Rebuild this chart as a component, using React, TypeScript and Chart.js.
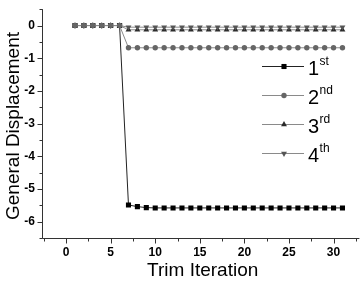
import React, { useEffect, useRef } from 'react';
import { Chart, registerables } from 'chart.js';
import { drawPoint } from 'chart.js/helpers';

Chart.register(...registerables);

// ---- data ----
const iterations = [1, 2, 3, 4, 5, 6, 7, 8, 9, 10, 11, 12, 13, 14, 15, 16, 17, 18, 19, 20, 21, 22, 23, 24, 25, 26, 27, 28, 29, 30, 31];
const first = [0, 0, 0, 0, 0, 0, -5.49, -5.54, -5.57, -5.58, -5.58, -5.58, -5.58, -5.58, -5.58, -5.58, -5.58, -5.58, -5.58, -5.58, -5.58, -5.58, -5.58, -5.58, -5.58, -5.58, -5.58, -5.58, -5.58, -5.58, -5.58];
const second = [0, 0, 0, 0, 0, 0, -0.68, -0.68, -0.68, -0.68, -0.68, -0.68, -0.68, -0.68, -0.68, -0.68, -0.68, -0.68, -0.68, -0.68, -0.68, -0.68, -0.68, -0.68, -0.68, -0.68, -0.68, -0.68, -0.68, -0.68, -0.68];
const third = [0, 0, 0, 0, 0, 0, -0.13, -0.13, -0.13, -0.13, -0.13, -0.13, -0.13, -0.13, -0.13, -0.13, -0.13, -0.13, -0.13, -0.13, -0.13, -0.13, -0.13, -0.13, -0.13, -0.13, -0.13, -0.13, -0.13, -0.13, -0.13];
const fourth = [0, 0, 0, 0, 0, 0, -0.05, -0.05, -0.05, -0.05, -0.05, -0.05, -0.05, -0.05, -0.05, -0.05, -0.05, -0.05, -0.05, -0.05, -0.05, -0.05, -0.05, -0.05, -0.05, -0.05, -0.05, -0.05, -0.05, -0.05, -0.05];

const legendNumbers = ['1', '2', '3', '4'];
const legendSuffixes = ['st', 'nd', 'rd', 'th'];

const xMajorTicks = [0, 5, 10, 15, 20, 25, 30];
const xMinorTicks = [-2.5, 2.5, 7.5, 12.5, 17.5, 22.5, 27.5, 32.5];
const yMajorTicks = [0, -1, -2, -3, -4, -5, -6];
const yMinorTicks = [0.5, -0.5, -1.5, -2.5, -3.5, -4.5, -5.5, -6.5];

const xTitle = 'Trim Iteration';
const yTitle = 'General Displacement';

const FONT = 'Arial, "Liberation Sans", Helvetica, sans-serif';

const seriesStyles = [
  { line: '#222222', fill: '#000000', pointStyle: 'rect', radius: 3.6, rotation: 0, order: 3 },
  { line: '#8a8a8a', fill: '#666666', pointStyle: 'circle', radius: 2.7, rotation: 0, order: 0 },
  { line: '#8a8a8a', fill: '#2a2a2a', pointStyle: 'triangle', radius: 3.4, rotation: 0, order: 2 },
  { line: '#8a8a8a', fill: '#555555', pointStyle: 'triangle', radius: 3.4, rotation: 180, order: 1 },
];

const toPoints = (ys: number[]) => ys.map((v, i) => ({ x: iterations[i], y: v }));

const originAxesPlugin = {
  id: 'originAxes',
  beforeDatasetsDraw(chart: any) {
    const { ctx, chartArea, scales } = chart;
    const { left, right, top, bottom } = chartArea;
    const x = scales.x;
    const y = scales.y;
    ctx.save();
    ctx.strokeStyle = '#333333';
    ctx.lineWidth = 1;
    ctx.beginPath();
    const lx = Math.round(left) + 0.5;
    const by = Math.round(bottom) + 0.5;
    ctx.moveTo(lx, top);
    ctx.lineTo(lx, by);
    ctx.lineTo(right, by);
    xMajorTicks.forEach((v) => {
      const px = Math.round(x.getPixelForValue(v)) + 0.5;
      ctx.moveTo(px, by);
      ctx.lineTo(px, by + 5);
    });
    xMinorTicks.forEach((v) => {
      const px = Math.round(x.getPixelForValue(v)) + 0.5;
      ctx.moveTo(px, by);
      ctx.lineTo(px, by + 3);
    });
    yMajorTicks.forEach((v) => {
      const py = Math.round(y.getPixelForValue(v)) + 0.5;
      ctx.moveTo(lx, py);
      ctx.lineTo(lx - 5, py);
    });
    yMinorTicks.forEach((v) => {
      const py = Math.round(y.getPixelForValue(v)) + 0.5;
      ctx.moveTo(lx, py);
      ctx.lineTo(lx - 3, py);
    });
    ctx.stroke();

    // axis titles
    ctx.fillStyle = '#000000';
    ctx.font = `19px ${FONT}`;
    ctx.textAlign = 'center';
    ctx.textBaseline = 'middle';
    ctx.fillText(xTitle, (left + right) / 2 + 2, 271);
    ctx.translate(14, 126);
    ctx.rotate(-Math.PI / 2);
    ctx.fillText(yTitle, 0, 0);
    ctx.restore();
  },
  afterDraw(chart: any) {
    const { ctx } = chart;
    ctx.save();
    const rowY = [66.5, 95.5, 124.5, 153.5];
    rowY.forEach((ry, i) => {
      const st = seriesStyles[i];
      ctx.strokeStyle = st.line;
      ctx.lineWidth = 1;
      ctx.beginPath();
      ctx.moveTo(262, ry);
      ctx.lineTo(304, ry);
      ctx.stroke();
      ctx.fillStyle = st.fill;
      ctx.strokeStyle = st.fill;
      drawPoint(ctx, { pointStyle: st.pointStyle, radius: st.radius, rotation: st.rotation, borderWidth: 0 } as any, 284, ry);
      ctx.fillStyle = '#000000';
      ctx.textAlign = 'left';
      ctx.textBaseline = 'alphabetic';
      ctx.font = `20px ${FONT}`;
      ctx.fillText(legendNumbers[i], 308, ry + 8);
      const w = ctx.measureText(legendNumbers[i]).width;
      ctx.font = `12px ${FONT}`;
      ctx.fillText(legendSuffixes[i], 308 + w + 0.5, ry - 2);
    });
    ctx.restore();
  },
};

export default function App() {
  const canvasRef = useRef<HTMLCanvasElement | null>(null);

  useEffect(() => {
    const canvas = canvasRef.current;
    if (!canvas) return;
    const seriesData = [first, second, third, fourth];
    const chart = new Chart(canvas, {
      type: 'line',
      data: {
        datasets: seriesData.map((ys, i) => {
          const st = seriesStyles[i];
          return {
            label: legendNumbers[i] + legendSuffixes[i],
            data: toPoints(ys),
            borderColor: st.line,
            borderWidth: 1,
            backgroundColor: st.fill,
            pointBackgroundColor: st.fill,
            pointBorderColor: st.fill,
            pointBorderWidth: 0,
            pointStyle: st.pointStyle as any,
            pointRadius: st.radius,
            pointRotation: st.rotation,
            pointHoverRadius: st.radius,
            tension: 0,
            fill: false,
            order: st.order,
          };
        }),
      },
      options: {
        animation: false,
        responsive: false,
        maintainAspectRatio: false,
        layout: { padding: { top: 0, right: 2, left: 0, bottom: 0 } },
        plugins: {
          legend: { display: false },
          tooltip: { enabled: false },
        },
        scales: {
          x: {
            type: 'linear',
            min: -2.7,
            max: 32.9,
            grid: { display: false, drawTicks: true, tickLength: 5 },
            border: { display: false },
            ticks: {
              padding: 2,
              color: '#000000',
              font: { family: FONT, size: 12, weight: 'bold' },
              maxRotation: 0,
            },
            afterBuildTicks: (scale: any) => {
              scale.ticks = xMajorTicks.map((v) => ({ value: v }));
            },
            afterFit: (scale: any) => {
              scale.height = 44;
            },
          },
          y: {
            type: 'linear',
            min: -6.5,
            max: 0.5,
            grid: { display: false, drawTicks: true, tickLength: 5 },
            border: { display: false },
            ticks: {
              padding: 2,
              color: '#000000',
              font: { family: FONT, size: 12, weight: 'bold' },
            },
            afterBuildTicks: (scale: any) => {
              scale.ticks = yMajorTicks.map((v) => ({ value: v }));
            },
            afterFit: (scale: any) => {
              scale.width = 42;
            },
          },
        },
      } as any,
      plugins: [originAxesPlugin],
    });
    return () => {
      chart.destroy();
    };
  }, []);

  return (
    <div style={{ position: 'absolute', left: 0, top: 0, width: 363, height: 282, background: '#ffffff' }}>
      <canvas ref={canvasRef} width={363} height={282} style={{ display: 'block' }} />
    </div>
  );
}
